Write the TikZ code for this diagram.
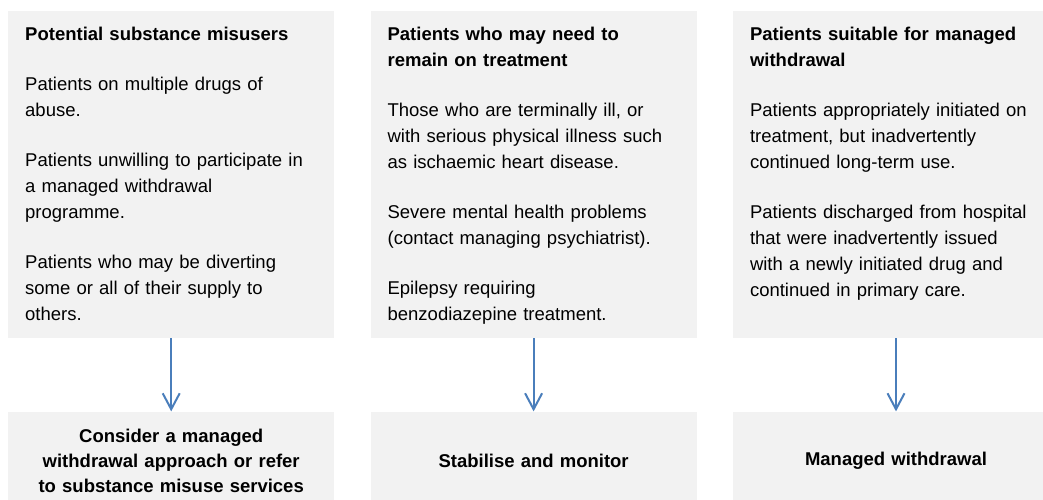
\documentclass[tikz,border=0pt]{standalone}
\usepackage{fontspec}
\setmainfont{Liberation Sans}
\usetikzlibrary{arrows.meta, positioning}
\definecolor{boxgray}{HTML}{F2F2F2}
\definecolor{arrowblue}{HTML}{4A7EBB}
\tikzstyle{group_box} = [rectangle, fill=boxgray, minimum width=326pt, minimum height=327pt, inner sep=0pt]
\tikzstyle{group_text} = [text width=305pt, align=left, inner sep=0pt, anchor=base west, font=\fontsize{18.5}{26}\selectfont]
\tikzstyle{result_box} = [rectangle, fill=boxgray, minimum width=326pt, minimum height=98pt, inner sep=0pt, text width=305pt, align=center, font=\fontsize{18.5}{25}\selectfont\bfseries]
\tikzstyle{flow_arrow} = [draw=arrowblue, line width=2pt, -{Straight Barb[length=16pt, width=17pt]}]

\begin{document}
\begin{tikzpicture}
\useasboundingbox (0pt,0pt) rectangle (1043pt,-499pt);

\node (misuse_box) [group_box, anchor=north west] at (8pt,-11pt) {};
\node (remain_box) [group_box, right=36pt of misuse_box] {};
\node (withdraw_box) [group_box, right=36pt of remain_box] {};

\node (misuse_text) [group_text] at ([shift={(17pt,-29pt)}]misuse_box.north west) {\textbf{Potential substance misusers}\\[24.5pt]
Patients on multiple drugs of\\ abuse.\\[24pt]
Patients unwilling to participate in\\ a managed withdrawal\\ programme.\\[24pt]
Patients who may be diverting\\ some or all of their supply to\\ others.};
\node (remain_text) [group_text] at ([shift={(17pt,-29pt)}]remain_box.north west) {\textbf{Patients who may need to}\\ \textbf{remain on treatment}\\[24.5pt]
Those who are terminally ill, or\\ with serious physical illness such\\ as ischaemic heart disease.\\[24pt]
Severe mental health problems\\ (contact managing psychiatrist).\\[24pt]
Epilepsy requiring\\ benzodiazepine treatment.};
\node (withdraw_text) [group_text] at ([shift={(17pt,-29pt)}]withdraw_box.north west) {\textbf{Patients suitable for managed}\\ \textbf{withdrawal}\\[24.5pt]
Patients appropriately initiated on\\ treatment, but inadvertently\\ continued long-term use.\\[24pt]
Patients discharged from hospital\\ that were inadvertently issued\\ with a newly initiated drug and\\ continued in primary care.};

\node (misuse_out) [result_box, below=73pt of misuse_box] {Consider a managed\\ withdrawal approach or refer\\ to substance misuse services};
\node (remain_out) [result_box, below=73pt of remain_box] {Stabilise and monitor};
\node (withdraw_out) [result_box, below=73pt of withdraw_box] {Managed withdrawal};

\draw [flow_arrow] (misuse_box) -- (misuse_out);
\draw [flow_arrow] (remain_box) -- (remain_out);
\draw [flow_arrow] (withdraw_box) -- (withdraw_out);
\end{tikzpicture}
\end{document}
